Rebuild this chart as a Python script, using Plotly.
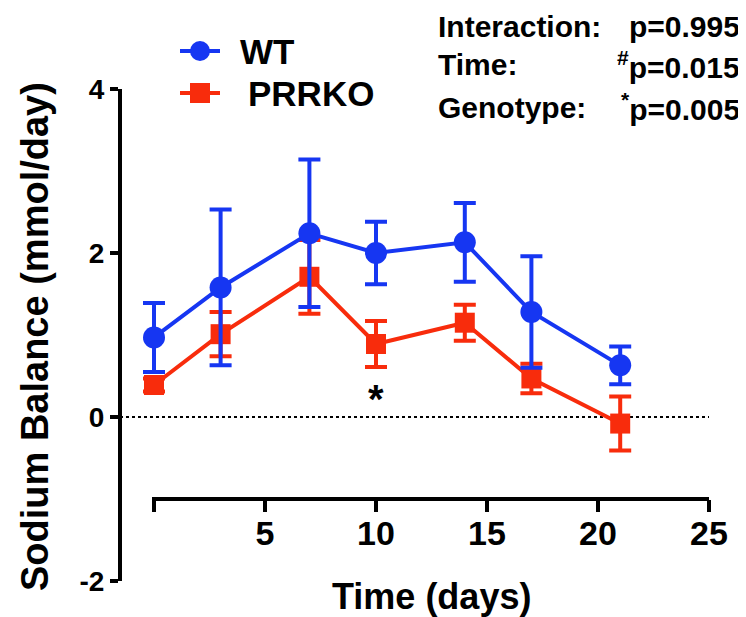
import plotly.graph_objects as go

# ---- data ----
days = [0, 3, 7, 10, 14, 17, 21]
wt_mean = [0.97, 1.58, 2.24, 2.00, 2.13, 1.28, 0.63]
wt_sem = [0.42, 0.95, 0.90, 0.38, 0.48, 0.68, 0.23]
ko_mean = [0.39, 1.01, 1.71, 0.89, 1.15, 0.47, -0.08]
ko_sem = [0.08, 0.27, 0.45, 0.28, 0.22, 0.18, 0.33]
series_names = ["WT", "PRRKO"]
x_tickvals = [0, 5, 10, 15, 20, 25]
x_ticktext = ["", "5", "10", "15", "20", "25"]
y_tickvals = [-2, 0, 2, 4]
y_ticktext = ["-2", "0", "2", "4"]
stats_labels = ["Interaction:", "Time:", "Genotype:"]
stats_values = ["p=0.995", "<sup>#</sup>p=0.015", "<sup>*</sup>p=0.005"]
signif_day = 10
signif_y = 0.22

BLUE = "#1636F2"
RED = "#F82C0C"
FONT = "Liberation Sans, Arial, Helvetica, sans-serif"

W, H = 746, 617
L, R, T, B = 112, 701, 81, 573
PW, PH = R - L, B - T
X0_PX = 146                      # pixel of day 0 (x axis starts here)
X_MAX = 25
unit = (R - X0_PX) / X_MAX
x_min = -(X0_PX - L) / unit      # axis range extends left to the y-axis line
XAXIS_POS = (B - 491) / PH       # offset (Prism-style) x-axis position


def px(x):
    return (x - L) / PW


def py(y):
    return (B - y) / PH


fig = go.Figure()

fig.add_trace(go.Scatter(
    x=days, y=ko_mean, name=series_names[1], mode="lines+markers",
    line=dict(color=RED, width=4),
    marker=dict(symbol="square", size=20, color=RED),
    error_y=dict(type="data", array=ko_sem, color=RED, thickness=4, width=11),
    cliponaxis=False, showlegend=False,
))
fig.add_trace(go.Scatter(
    x=days, y=wt_mean, name=series_names[0], mode="lines+markers",
    line=dict(color=BLUE, width=4),
    marker=dict(symbol="circle", size=22, color=BLUE),
    error_y=dict(type="data", array=wt_sem, color=BLUE, thickness=4, width=11),
    cliponaxis=False, showlegend=False,
))

shapes = []
# dotted zero line
shapes.append(dict(type="line", xref="paper", yref="y", x0=0, x1=1, y0=0, y1=0,
                   line=dict(color="black", width=2, dash="dot"), layer="below"))
# x-axis line from 0 to 25 only
ext = 2 / unit
shapes.append(dict(type="line", xref="x", yref="paper", x0=x_tickvals[0] - ext, x1=x_tickvals[-1] + ext,
                   y0=XAXIS_POS, y1=XAXIS_POS, line=dict(color="black", width=4)))

# manual legend
leg_rows = [(43, BLUE, "circle", series_names[0], 230), (85, RED, "square", series_names[1], 238)]
annotations = []
for yy, col, sym, name, tx in leg_rows:
    shapes.append(dict(type="line", xref="paper", yref="paper",
                       x0=px(172), x1=px(212), y0=py(yy), y1=py(yy),
                       line=dict(color=col, width=4)))
    shapes.append(dict(type="circle" if sym == "circle" else "rect",
                       xref="paper", yref="paper",
                       xsizemode="pixel", ysizemode="pixel",
                       xanchor=px(192), yanchor=py(yy),
                       x0=-10, x1=10, y0=-10, y1=10,
                       fillcolor=col, line=dict(width=0)))
    annotations.append(dict(xref="paper", yref="paper", x=px(tx), y=py(yy),
                            text=name, showarrow=False, xanchor="left", yanchor="middle",
                            font=dict(family=FONT, size=35, color="black", weight=700)))

# stats text
for i, yy in enumerate([18, 57, 99]):
    annotations.append(dict(xref="paper", yref="paper", x=px(428), y=py(yy),
                            text=stats_labels[i], showarrow=False, xanchor="left", yanchor="middle",
                            font=dict(family=FONT, size=30, color="black", weight=700)))
    annotations.append(dict(xref="paper", yref="paper", x=px(734), y=py(yy),
                            text=stats_values[i], showarrow=False, xanchor="right", yanchor="middle",
                            font=dict(family=FONT, size=30, color="black", weight=700)))

# significance star
annotations.append(dict(xref="x", yref="y", x=signif_day, y=signif_y, text="*", showarrow=False,
                        font=dict(family=FONT, size=40, color="black", weight=700)))

# axis titles
annotations.append(dict(xref="paper", yref="paper", x=px(423), y=py(588), text="Time (days)",
                        showarrow=False, xanchor="center", yanchor="middle",
                        font=dict(family=FONT, size=36, color="black", weight=700)))
annotations.append(dict(xref="paper", yref="paper", x=px(27), y=py(329), text="Sodium Balance (mmol/day)",
                        showarrow=False, xanchor="center", yanchor="middle", textangle=-90,
                        font=dict(family=FONT, size=38, color="black", weight=700)))

fig.update_layout(
    width=W, height=H,
    margin=dict(l=L, r=W - R, t=T, b=H - B, pad=0),
    paper_bgcolor="white", plot_bgcolor="white",
    showlegend=False,
    shapes=shapes, annotations=annotations,
    xaxis=dict(domain=[0, 1], range=[x_min, X_MAX], anchor="free", position=XAXIS_POS,
               showline=False,
               ticks="outside", ticklen=12, tickwidth=4, tickcolor="black",
               tickvals=x_tickvals, ticktext=x_ticktext, ticklabelstandoff=-8,
               tickfont=dict(family=FONT, size=34, color="black", weight=700),
               showgrid=False, zeroline=False),
    yaxis=dict(domain=[0, 1], range=[-2, 4], anchor="free", position=0,
               showline=True, linecolor="black", linewidth=4,
               ticks="outside", ticklen=8, tickwidth=4, tickcolor="black",
               tickvals=y_tickvals, ticktext=y_ticktext,
               tickfont=dict(family=FONT, size=28, color="black", weight=700),
               showgrid=False, zeroline=False),
)

fig.write_html("out.html")
